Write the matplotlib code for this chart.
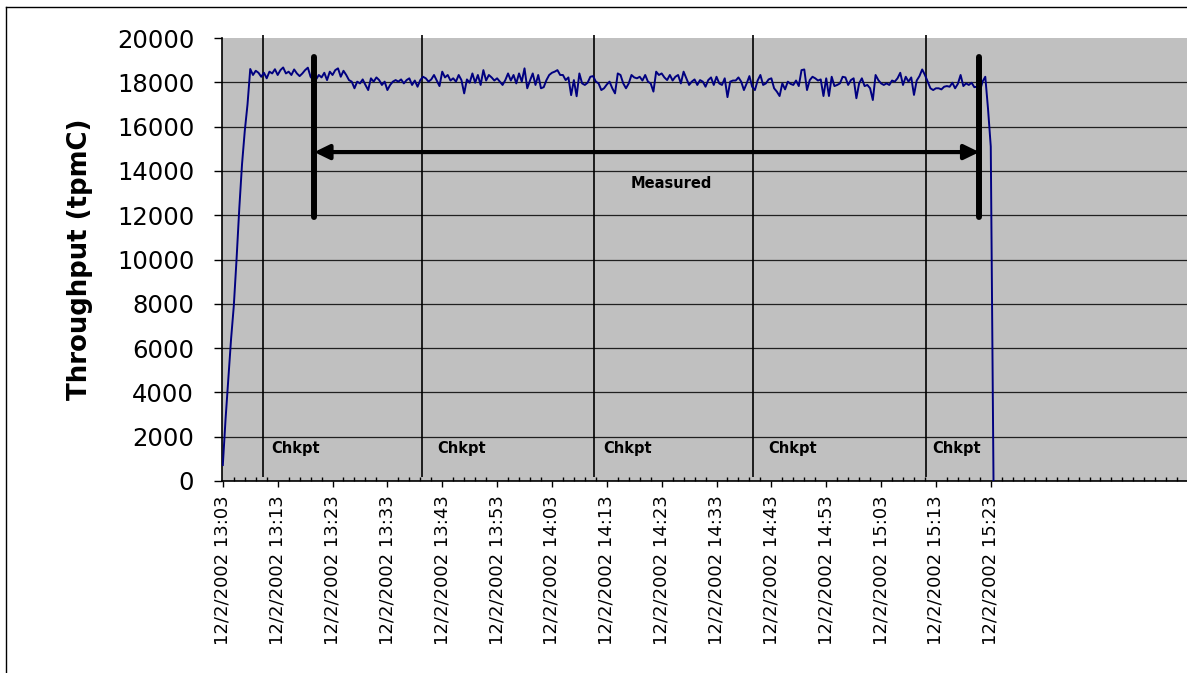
import matplotlib
matplotlib.use("Agg")
import matplotlib.pyplot as plt
import numpy as np
from matplotlib.patches import FancyArrowPatch
from matplotlib.lines import Line2D

# throughput samples every 30 seconds starting 12/2/2002 13:03
ramp_up = [720, 2800, 4600, 6400, 7900, 10000, 12300, 14300, 15800, 17000]
seg_a = [18600, 18330, 18520, 18430, 18250, 18430, 18180, 18480, 18400, 18590,
         18330, 18550, 18670, 18400, 18480, 18330, 18580, 18400, 18280, 18400,
         18550, 18660, 18250, 18100, 18130, 18330, 18220, 18430, 18100, 18480,
         18330, 18550, 18630, 18250, 18520, 18330, 18100, 18030, 17730, 18030,
         17950, 18130, 17880, 17650, 18180, 18030, 18220, 18100, 17880, 18030,
         17650, 17880, 18030, 18100, 18030, 18130, 17950, 18100, 18180, 17880,
         18080, 17800, 18100, 18250]
seg_b = [18180, 18030, 18130, 18330, 18080, 17830, 18480, 18220, 18330, 18080,
         18180, 18030, 18330, 18100, 17500, 18130, 17980, 18400, 17980, 18330,
         17880, 18550, 18080, 18330, 18220, 18080, 18180, 18030, 17880, 18100,
         18400, 18080, 18330, 17950, 18400, 18030, 18630, 17730, 18080, 18400,
         17880, 18330, 17730, 17780, 18100, 18330, 18430, 18480, 18550, 18330,
         18330, 18100, 18220, 17420, 18100, 17370, 18400, 17950, 17880, 17980,
         18250, 18280, 18030, 17950, 17650, 17730, 17900]
seg_c = [18030, 17730, 17500, 18400, 18330, 17950, 17730, 17950, 18330, 18220,
         18180, 18250, 18080, 18330, 18030, 17950, 17580, 18480, 18330, 18400,
         18220, 18100, 18330, 18080, 18250, 18330, 17950, 18480, 18180, 17880,
         18030, 18130, 17880, 18100, 18030, 17800, 18100, 18220, 17880, 18250,
         17950, 17880, 18180, 17330, 18030, 18080, 18080, 18220, 18030, 17650,
         17950, 18280, 17800, 17650, 18080, 18330, 17880, 17950, 18130, 18180,
         17730, 17580, 17380, 17950, 17680, 18030, 17930, 17880]
seg_d = [18080, 17830, 18550, 18580, 17650, 18100, 18250, 18180, 18080, 18130,
         17380, 18180, 17380, 18250, 17830, 17880, 17950, 18250, 18220, 17880,
         18100, 18180, 17280, 17950, 18180, 17830, 17880, 17730, 17200, 18330,
         18100, 17950, 17880, 17950, 17880, 18080, 18030, 18180, 18430, 17880,
         18250, 18030, 18220, 17430, 18080, 18280, 18580, 18330, 18030, 17730,
         17650, 17730, 17730, 17680, 17800, 17830, 17800, 17980, 17730, 17930,
         18330, 17830, 17950, 17880, 17980, 17780, 17800, 17580, 18030, 18250,
         16800, 15100, 0]
throughput = np.array(ramp_up + seg_a + seg_b + seg_c + seg_d)
minutes = np.arange(len(throughput)) * 0.5

# checkpoints and measurement interval, minutes after 13:03
checkpoints = [7.3, 36.25, 67.6, 96.6, 128.2]
chk_label_x = [8.74, 39.16, 69.4, 99.45, 129.3]
measure_start = 16.67
measure_end = 137.9

tick_minutes = list(range(0, 150, 10))
tick_labels = ["12/2/2002 13:03", "12/2/2002 13:13", "12/2/2002 13:23",
               "12/2/2002 13:33", "12/2/2002 13:43", "12/2/2002 13:53",
               "12/2/2002 14:03", "12/2/2002 14:13", "12/2/2002 14:23",
               "12/2/2002 14:33", "12/2/2002 14:43", "12/2/2002 14:53",
               "12/2/2002 15:03", "12/2/2002 15:13", "12/2/2002 15:23"]

W, H = 1187, 673
fig = plt.figure(figsize=(W / 100, H / 100), dpi=100)
ax = fig.add_axes([222 / W, 1 - 481 / H, (W - 222) / W, (481 - 38) / H])
ax.set_facecolor("#C0C0C0")

# outer chart border (top and left visible, rest is cropped)
fig.add_artist(Line2D([6 / W, 1], [1 - 7 / H, 1 - 7 / H], color="black", lw=1,
                      transform=fig.transFigure))
fig.add_artist(Line2D([6 / W, 6 / W], [0, 1 - 7 / H], color="black", lw=1,
                      transform=fig.transFigure))

ax.set_ylim(0, 20000)
ax.set_xlim(-0.15, (W - 222) / 5.49)
ax.set_yticks(range(0, 20001, 2000))
ax.tick_params(axis="y", labelsize=17.5, length=6, width=1, pad=14)
ax.set_xticks(tick_minutes, labels=tick_labels, rotation=90)
ax.set_xticks(np.arange(0, 176, 2), minor=True)
ax.tick_params(axis="x", which="major", labelsize=13, length=4, width=1, pad=6,
               direction="out")
ax.tick_params(axis="x", which="minor", length=3, width=1, direction="in")
ax.yaxis.grid(True, color="#202020", lw=0.9)
ax.set_axisbelow(True)
ax.get_ygridlines()[-1].set_visible(False)
for s in ("top", "right"):
    ax.spines[s].set_visible(False)
for s in ("left", "bottom"):
    ax.spines[s].set_linewidth(1.2)

ax.vlines(checkpoints, 200, 20150, color="black", lw=1.2, clip_on=False)
for x in chk_label_x:
    ax.text(x, 1480, "Chkpt", fontsize=10.5, fontweight="bold", va="center",
            ha="left")

ax.plot(minutes, throughput, color="#000080", lw=1.4, zorder=3)

# measured interval
for x in (measure_start, measure_end):
    ax.plot([x, x], [11900, 19150], color="black", lw=4.3,
            solid_capstyle="round", zorder=4)
arrow = FancyArrowPatch((measure_start, 14850), (measure_end, 14850),
                        arrowstyle="<|-|>,head_length=0.45,head_width=0.22",
                        mutation_scale=20, lw=3, color="black",
                        shrinkA=0, shrinkB=0, zorder=4)
ax.add_patch(arrow)
ax.text(81.8, 13420, "Measured", fontsize=10.5, fontweight="bold",
        ha="center", va="center")

fig.text(80 / W, 1 - 259 / H, "Throughput (tpmC)", rotation=90, fontsize=18.7,
         fontweight="bold", ha="center", va="center")

fig.savefig("out.png", dpi=100)
